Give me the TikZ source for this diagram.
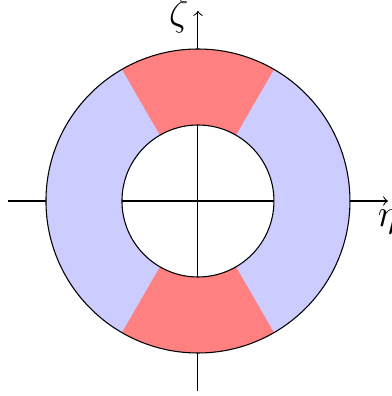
\documentclass[tikz,border=0pt]{standalone}
\usepackage{amsmath,amssymb}
\usepackage{tikz}

\begin{document}
\begin{tikzpicture}

\def\outrad{2};
\def\inrad{1};
\def\axlen{2.5};

\useasboundingbox (-2.605,-2.566) rectangle (2.553,2.645);

\coordinate (O) at (0,0);
\coordinate (Xl) at (-\axlen,0);
\coordinate (Xr) at (\axlen,0);
\coordinate (Yb) at (0,-\axlen);
\coordinate (Yt) at (0,\axlen);

% axes
\draw [->] (Xl) -- (Xr) node [below] (eta) {\Large $\eta$};
\draw [->] (Yb) -- (Yt) node [left,yshift=-2pt] (zeta) {\Large $\zeta$};

% ring
\fill [blue!20,even odd rule] (O) circle [radius=\outrad] (O) circle [radius=\inrad];

\foreach \a in {60,240}
{
\fill [red!50] (\a:\inrad) -- (\a:\outrad)
  arc [start angle=\a, delta angle=60, radius=\outrad]
  -- ({\a+60}:\inrad)
  arc [start angle=\a+60, delta angle=-60, radius=\inrad] -- cycle;
}

\draw (O) circle [radius=\outrad];
\draw (O) circle [radius=\inrad];

\end{tikzpicture}
\end{document}
